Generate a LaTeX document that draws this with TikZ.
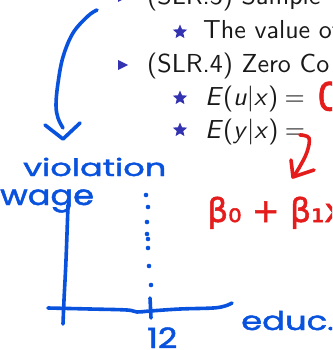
\documentclass[tikz,border=0pt]{standalone}
\usepackage{fontspec}
\newfontfamily\slidefont[ItalicFont=lmsans10-oblique.otf]{lmsans10-regular.otf}
\newfontfamily\handfont[FakeBold=1.6]{Poppins}
\newfontfamily\redfont[FakeBold=1.6]{DejaVu Sans}
\usetikzlibrary{shapes.geometric}
\definecolor{penblue}{RGB}{8,82,222}
\definecolor{penred}{RGB}{228,28,28}
\definecolor{beamerblue}{RGB}{51,51,178}
\begin{document}
\begin{tikzpicture}[x=1pt,y=-1pt,
  slide/.style={anchor=base west, inner sep=0pt, text=black!90, font=\slidefont\fontsize{26}{30}\selectfont},
  starbullet/.style={star, star points=5, star point ratio=2.2, fill=beamerblue, inner sep=0pt, minimum size=15pt},
  pen/.style={penblue, line width=3.6pt, line cap=round, line join=round},
  redpen/.style={penred, line width=3.6pt, line cap=round, line join=round},
  hand/.style={anchor=base west, inner sep=0pt, text=penblue, font=\handfont\fontsize{24}{28}\selectfont},
  pendot/.style={circle, fill=penblue, inner sep=0pt, minimum size=4.6pt},
]
\useasboundingbox (0,0) rectangle (332,350);
\clip (0,0) rectangle (332,350);

% slide text
\fill[beamerblue] (118,-8) -- (128,-3) -- (118,2) -- cycle;
\node[slide] (l1) at (147,5) {(SLR.3) Sample};
\node[starbullet] (s2) at (180,32) {};
\node[slide] (l2) at (203,39) {The value of};
\fill[beamerblue] (118,60) -- (128,65) -- (118,70) -- cycle;
\node[slide] (l3) at (147,73) {(SLR.4) Zero Co};
\node[starbullet] (s4) at (180,98) {};
\node[slide] (l4) at (205,105) {\textit{E}(\textit{u}|\textit{x})\hspace{0.25em}=};
\node[starbullet] (s5) at (180,130) {};
\node[slide] (l5) at (205,138) {\textit{E}(\textit{y}|\textit{x})\hspace{0.25em}=};

% red annotations
\node[anchor=base west, inner sep=0pt, text=penred, font=\handfont\fontsize{40}{46}\selectfont] (zero) at (317,111) {0};
\coordinate (ra) at (300,135);
\coordinate (rb) at (293,177);
\draw[redpen] plot[smooth, tension=0.6] coordinates {(300,135) (309,138) (307,152) (299,168) (293,177)};
\draw[redpen] (291,160) -- (rb) -- (314,170);
\node[anchor=base west, inner sep=0pt, text=penred, font=\redfont\fontsize{33}{38}\selectfont] (beta) at (207,222) {β₀ + β₁x};

% blue arrow from the slide to "violation"
\coordinate (ba) at (97,10);
\coordinate (bb) at (63,139);
\draw[pen] plot[smooth, tension=0.6] coordinates {(97,10) (88,16) (73,33) (63,57) (58,83) (56,105) (58,118) (63,128)};
\draw[pen] (45,125) -- (bb) -- (80,123);

\node[hand] (viol) at (23,176) {\scalebox{1.4}[1]{violation}};
\node[hand, font=\handfont\fontsize{28}{32}\selectfont] (wage) at (0,205) {\scalebox{1.2}[1]{wage}};

% axes
\coordinate (yt) at (68,205);
\coordinate (yb) at (63,324);
\draw[pen] plot[smooth, tension=0.6] coordinates {(68,205) (66,260) (64,300) (63,324)};
\draw[pen] plot[smooth, tension=0.6] coordinates {(48,308) (90,309) (127,310) (137,312) (150,311) (180,309) (213,308) (225,306) (232,303)};
\draw[pen] (150,298) -- (151,318);
\foreach \p in {(146,195),(148,207),(147,222),(147,234),(148,239),(148,248),(149,266),(151,285)}
  \node[pendot] at \p {};

\node[hand, font=\handfont\fontsize{28}{32}\selectfont] (twelve) at (147,348) {\scalebox{1.2}[1]{12}};
\node[hand, font=\handfont\fontsize{26}{30}\selectfont] (educ) at (241,330) {\scalebox{1.3}[1]{educ.}};
\end{tikzpicture}
\end{document}
